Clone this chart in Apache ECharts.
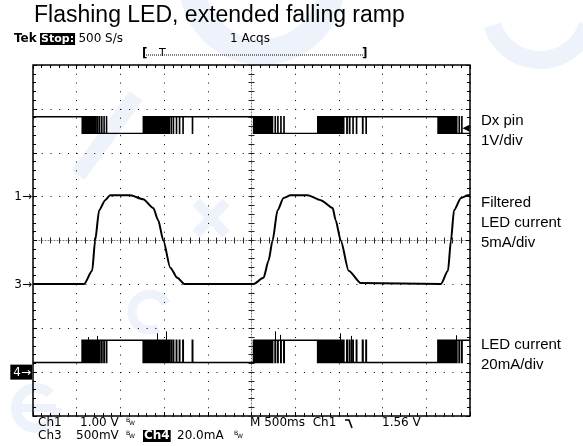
<!DOCTYPE html>
<html>
<head>
<meta charset="utf-8">
<script src="https://cdn.jsdelivr.net/npm/echarts@6/dist/echarts.min.js"></script>
<style>
html, body { margin: 0; padding: 0; background: #fff; }
#main { width: 583px; height: 446px; }
</style>
</head>
<body>
<div id="main"></div>
<script>
var myChart = echarts.init(document.getElementById('main'));

// time base: 500 ms/div, 10 divisions
var timeMin = 0, timeMax = 5000, msPerDiv = 500;

// channel settings: units per div, ground position (div from centre)
var ch1Scale = 1, ch1Pos = 1;      // Dx pin, V
var ch3Scale = 500, ch3Pos = -1;   // filtered LED current, mV
var ch4Scale = 20, ch4Pos = -3;    // LED current, mA
var trigLevel = 1.56;              // Ch1 falling edge, V

// Dx pin (V): starts high, toggles at these times (ms)
var dxHigh = 1.82, dxLow = 1.44;
var dxEdges = [
    562, 570, 582, 590, 600, 610, 622, 630, 641, 650, 663, 670, 682, 690, 702, 710,
    722, 738, 742, 760, 764, 785, 789, 812, 815, 840, 843,
    1261, 1270, 1280, 1290, 1299, 1310, 1320, 1330, 1341, 1350, 1360, 1370, 1380, 1392,
    1400, 1410, 1420, 1430, 1440, 1450, 1461, 1470, 1480, 1490, 1500, 1512, 1520, 1530,
    1540, 1550, 1560, 1580, 1584, 1605, 1609, 1640, 1644, 1675, 1679, 1715, 1719,
    1823, 1827,
    2523, 2532, 2542, 2552, 2562, 2572, 2582, 2593, 2602, 2612, 2622, 2632, 2642, 2652,
    2662, 2672, 2682, 2692, 2702, 2712, 2722, 2732, 2742, 2770, 2774, 2800, 2804,
    2835, 2839, 2870, 2874,
    3257, 3267, 3277, 3287, 3297, 3307, 3317, 3327, 3337, 3347, 3357, 3367, 3377, 3387,
    3397, 3407, 3417, 3427, 3437, 3447, 3457, 3467, 3477, 3487, 3497, 3507, 3517, 3527,
    3537, 3547, 3557, 3590, 3596, 3620, 3626, 3660, 3664, 3700, 3704, 3770, 3776,
    3810, 3814,
    4633, 4643, 4653, 4663, 4673, 4683, 4693, 4703, 4713, 4723, 4733, 4743, 4753, 4763,
    4773, 4783, 4793, 4803, 4813, 4823, 4833, 4843, 4850, 4875, 4879, 4905, 4909
];

// filtered LED current (Ch3, mV)
var filtT = [0, 585, 677, 711, 757, 826, 883, 1112, 1261, 1376, 1433, 1491, 1571, 1651, 1732,
    2523, 2638, 2695, 2741, 2798, 2867, 2947, 3142, 3291, 3429, 3463, 3521, 3612, 3750,
    4667, 4748, 4782, 4817, 4897, 4977, 5000];
var filtV = [5, 5, 155, 500, 845, 960, 1015, 1015, 970, 870, 730, 500, 190, 75, 5,
    5, 75, 270, 500, 845, 985, 1015, 1015, 960, 870, 730, 500, 155, 15,
    5, 155, 500, 845, 985, 1015, 1015];

// LED current (Ch4, mA): off while Dx high, on while Dx low
var ledOff = 4.4, ledOn = 14.5;
var ledSpikeT = [631, 734, 1422, 1525, 2775, 2830, 3521, 3636, 4840];
var ledSpikeV = [16.0, 16.5, 17.7, 18.6, 18.6, 17.0, 17.7, 16.5, 16.8];

function toDiv(v, scale, pos) { return v / scale + pos; }

var dxPts = [[timeMin, toDiv(dxHigh, ch1Scale, ch1Pos)]];
var ledPts = [[timeMin, toDiv(ledOff, ch4Scale, ch4Pos)]];
var isHigh = true;
dxEdges.forEach(function (t) {
    var a = isHigh ? dxHigh : dxLow, b = isHigh ? dxLow : dxHigh;
    var la = isHigh ? ledOff : ledOn, lb = isHigh ? ledOn : ledOff;
    dxPts.push([t, toDiv(a, ch1Scale, ch1Pos)], [t, toDiv(b, ch1Scale, ch1Pos)]);
    ledPts.push([t, toDiv(la, ch4Scale, ch4Pos)], [t, toDiv(lb, ch4Scale, ch4Pos)]);
    isHigh = !isHigh;
});
dxPts.push([timeMax, toDiv(isHigh ? dxHigh : dxLow, ch1Scale, ch1Pos)]);
ledPts.push([timeMax, toDiv(isHigh ? ledOff : ledOn, ch4Scale, ch4Pos)]);

var filtPts = filtT.map(function (t, i) { return [t, toDiv(filtV[i], ch3Scale, ch3Pos)]; });
var spikeLines = ledSpikeT.map(function (t, i) {
    return { coords: [[t, toDiv(ledOff, ch4Scale, ch4Pos)], [t, toDiv(ledSpikeV[i], ch4Scale, ch4Pos)]] };
});

var scopeFont = '"DejaVu Sans", sans-serif';
var labelFont = '"Liberation Sans", Arial, sans-serif';
var wm = '#eef2fa';   // faint watermark

// grid: 10 x 8 divisions
var gLeft = 33, gTop = 65, gW = 437, gH = 351;

function xAx(pos, offset, extra) {
    return Object.assign({
        type: 'value', min: timeMin, max: timeMax, interval: msPerDiv,
        position: pos, offset: offset,
        axisLine: { show: false, onZero: false },
        axisTick: { show: true, inside: true, length: 4, lineStyle: { color: '#000' } },
        minorTick: { show: true, splitNumber: 5, length: 3, lineStyle: { color: '#000' } },
        axisLabel: { show: false },
        splitLine: { show: false }
    }, extra || {});
}
function yAx(pos, offset, extra) {
    return Object.assign({
        type: 'value', min: -4, max: 4, interval: 1,
        position: pos, offset: offset,
        axisLine: { show: false, onZero: false },
        axisTick: { show: true, inside: true, length: 4, lineStyle: { color: '#000' } },
        minorTick: { show: true, splitNumber: 5, length: 3, lineStyle: { color: '#000' } },
        axisLabel: { show: false },
        splitLine: { show: false }
    }, extra || {});
}
var centreLine = { show: true, onZero: false, lineStyle: { color: '#777', width: 1, type: [1, 2] } };
var centreTick = { show: true, inside: true, length: 3, lineStyle: { color: '#222' } };
var centreMinor = { show: true, splitNumber: 5, length: 3, lineStyle: { color: '#222' } };

var option = {
    backgroundColor: '#fff',
    animation: false,
    grid: {
        left: gLeft, top: gTop, width: gW, height: gH,
        show: true, borderColor: '#000', borderWidth: 1.5, backgroundColor: 'transparent'
    },
    xAxis: [
        xAx('bottom', 0, { splitLine: { show: true, lineStyle: { color: '#000', width: 1, type: [1, 7.775] } } }),
        xAx('top', 0),
        xAx('bottom', -gH / 2, { axisLine: centreLine, axisTick: centreTick, minorTick: centreMinor }),
        xAx('top', -gH / 2, { axisTick: centreTick, minorTick: centreMinor })
    ],
    yAxis: [
        yAx('left', 0, {
            splitLine: { show: true, lineStyle: { color: '#000', width: 1, type: [1, 7.74] } },
            axisLabel: {
                show: true, margin: 1, fontFamily: scopeFont, fontSize: 12, color: '#000',
                formatter: function (v) {
                    if (v === ch1Pos) return '1\u2192';
                    if (v === ch3Pos) return '3\u2192';
                    if (v === ch4Pos) return '{inv|4\u2192}';
                    return '';
                },
                rich: { inv: { backgroundColor: '#000', color: '#fff', fontFamily: scopeFont, fontSize: 12, padding: [2, 1, 1, 3] } }
            }
        }),
        yAx('right', 0),
        yAx('left', -gW / 2, { axisLine: centreLine, axisTick: centreTick, minorTick: centreMinor }),
        yAx('right', -gW / 2, { axisTick: centreTick, minorTick: centreMinor })
    ],
    series: [
        {
            name: 'Dx pin', type: 'lines', coordinateSystem: 'cartesian2d', polyline: true,
            data: [{ coords: dxPts }],
            lineStyle: { color: '#000', width: 1.3, opacity: 1 }, z: 3,
            markPoint: {
                symbol: 'triangle', symbolSize: [7, 7], symbolRotate: 90, symbolOffset: [-4, 0],
                itemStyle: { color: '#000' }, label: { show: false },
                data: [{ coord: [timeMax, toDiv(trigLevel, ch1Scale, ch1Pos)] }]
            }
        },
        {
            name: 'Filtered LED current', type: 'line', data: filtPts, showSymbol: false, symbol: 'none',
            smooth: 0.25, smoothMonotone: 'x',
            lineStyle: { color: '#000', width: 2 }, z: 3
        },
        {
            name: 'LED current', type: 'lines', coordinateSystem: 'cartesian2d', polyline: true,
            data: [{ coords: ledPts }],
            lineStyle: { color: '#000', width: 1.6, opacity: 1 }, z: 3
        },
        {
            name: 'LED spikes', type: 'lines', coordinateSystem: 'cartesian2d', data: spikeLines,
            lineStyle: { color: '#000', width: 1, opacity: 1 }, z: 3
        }
    ],
    graphic: [
        // faint watermark shapes behind the chart
        { type: 'arc', z: -10, shape: { cx: 262, cy: -18, r: 70, startAngle: 0, endAngle: Math.PI }, style: { stroke: wm, lineWidth: 26, fill: null } },
        { type: 'arc', z: -10, shape: { cx: 540, cy: 10, r: 50, startAngle: 0.3, endAngle: Math.PI * 0.9 }, style: { stroke: wm, lineWidth: 18, fill: null } },
        { type: 'line', z: -10, shape: { x1: 136, y1: 96, x2: 78, y2: 175 }, style: { stroke: wm, lineWidth: 16 } },
        { type: 'line', z: -10, shape: { x1: 196, y1: 202, x2: 226, y2: 234 }, style: { stroke: wm, lineWidth: 10 } },
        { type: 'line', z: -10, shape: { x1: 226, y1: 202, x2: 196, y2: 234 }, style: { stroke: wm, lineWidth: 10 } },
        { type: 'arc', z: -10, shape: { cx: 150, cy: 312, r: 18, startAngle: Math.PI * 0.35, endAngle: Math.PI * 1.85 }, style: { stroke: wm, lineWidth: 9, fill: null } },
        { type: 'arc', z: -10, shape: { cx: 36, cy: 408, r: 20, startAngle: 0, endAngle: Math.PI * 1.75 }, style: { stroke: wm, lineWidth: 10, fill: null } },
        { type: 'line', z: -10, shape: { x1: 17, y1: 408, x2: 56, y2: 408 }, style: { stroke: wm, lineWidth: 8 } },

        { type: 'text', left: 34, top: 4, style: { text: 'Flashing LED, extended falling ramp', font: '23px ' + labelFont, fill: '#000' } },
        {
            type: 'text', left: 14, top: 33,
            style: {
                text: '{b|Tek} {inv|Stop:} {n|500 S/s}',
                rich: {
                    b: { font: 'bold 12px ' + scopeFont, fill: '#000' },
                    inv: { font: 'bold 11px ' + scopeFont, fill: '#fff', backgroundColor: '#000', padding: [1, 1, 0, 1] },
                    n: { font: '12px ' + scopeFont, fill: '#000' }
                }
            }
        },
        { type: 'text', left: 230, top: 33, style: { text: '1 Acqs', font: '12px ' + scopeFont, fill: '#000' } },
        // record-length bar
        { type: 'line', shape: { x1: 146, y1: 55, x2: 364, y2: 55 }, style: { stroke: '#000', lineWidth: 1, lineDash: [1, 1] } },
        { type: 'text', left: 142, top: 48, style: { text: '[', font: 'bold 12px ' + scopeFont, fill: '#000' } },
        { type: 'text', left: 362, top: 48, style: { text: ']', font: 'bold 12px ' + scopeFont, fill: '#000' } },
        { type: 'text', left: 159, top: 48, style: { text: 'T', font: '11px ' + scopeFont, fill: '#000' } },
        // channel captions
        { type: 'text', left: 481, top: 111, style: { text: 'Dx pin\n1V/div', font: '15px ' + labelFont, lineHeight: 20, fill: '#000' } },
        { type: 'text', left: 481, top: 193, style: { text: 'Filtered\nLED current\n5mA/div', font: '15px ' + labelFont, lineHeight: 20, fill: '#000' } },
        { type: 'text', left: 481, top: 335, style: { text: 'LED current\n20mA/div', font: '15px ' + labelFont, lineHeight: 20, fill: '#000' } },
        // readout rows
        { type: 'text', left: 38, top: 417, style: { text: 'Ch1', font: '12px ' + scopeFont, fill: '#000' } },
        { type: 'text', left: 80, top: 417, style: { text: '1.00 V', font: '12px ' + scopeFont, fill: '#000' } },
        { type: 'text', left: 126, top: 417, style: { text: 'B', font: '6px ' + scopeFont, fill: '#000' } },
        { type: 'text', left: 129, top: 420, style: { text: 'W', font: '6px ' + scopeFont, fill: '#000' } },
        { type: 'text', left: 250, top: 417, style: { text: 'M 500ms  Ch1', font: '12px ' + scopeFont, fill: '#000' } },
        { type: 'polyline', shape: { points: [[345, 420], [349, 420], [352, 428]] }, style: { stroke: '#000', lineWidth: 1.6, fill: null } },
        { type: 'text', left: 382, top: 417, style: { text: '1.56 V', font: '12px ' + scopeFont, fill: '#000' } },
        { type: 'text', left: 38, top: 430, style: { text: 'Ch3', font: '12px ' + scopeFont, fill: '#000' } },
        { type: 'text', left: 76, top: 430, style: { text: '500mV', font: '12px ' + scopeFont, fill: '#000' } },
        { type: 'text', left: 126, top: 430, style: { text: 'B', font: '6px ' + scopeFont, fill: '#000' } },
        { type: 'text', left: 129, top: 433, style: { text: 'W', font: '6px ' + scopeFont, fill: '#000' } },
        {
            type: 'text', left: 143, top: 430,
            style: { text: 'Ch4', font: 'bold 12px ' + scopeFont, fill: '#fff', backgroundColor: '#000', padding: [0, 1, 0, 1] }
        },
        { type: 'text', left: 177, top: 430, style: { text: '20.0mA', font: '12px ' + scopeFont, fill: '#000' } },
        { type: 'text', left: 234, top: 430, style: { text: 'B', font: '6px ' + scopeFont, fill: '#000' } },
        { type: 'text', left: 237, top: 433, style: { text: 'W', font: '6px ' + scopeFont, fill: '#000' } }
    ]
};

myChart.setOption(option);
</script>
</body>
</html>
